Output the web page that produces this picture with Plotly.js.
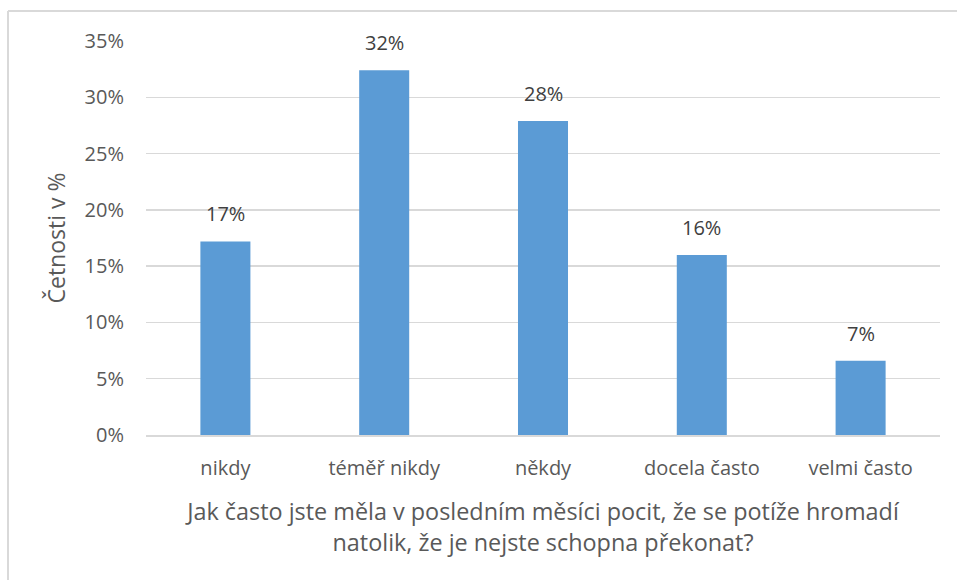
<!DOCTYPE html>
<html>
<head>
<meta charset="utf-8">
<script src="https://cdn.plot.ly/plotly-3.0.1.min.js"></script>
<style>html,body{margin:0;padding:0;background:#fff;}#chart{width:957px;height:580px;}</style>
</head>
<body>
<div id="chart"></div>
<script>
const categories = ["nikdy", "téměř nikdy", "někdy", "docela často", "velmi často"];
const values = [0.172, 0.324, 0.279, 0.160, 0.066];
const labels = ["17%", "32%", "28%", "16%", "7%"];
const yTickVals = [0, 0.05, 0.10, 0.15, 0.20, 0.25, 0.30, 0.35];
const yTickText = ["0%", "5%", "10%", "15%", "20%", "25%", "30%", "35%"];
const xTitle = "Jak často jste měla v posledním měsíci pocit, že se potíže hromadí<br>natolik, že je nejste schopna překonat?";
const yTitle = "Četnosti v %";

const FONT = "Open Sans, Lato, sans-serif";
const TXT = "#595959";
const LBL = "#404040";
const GRID = "#D9D9D9";

const W = 957, H = 580, L = 146, R = 17, T = 41, B = 145;
const pw = W - L - R, ph = H - T - B;
const px = x => (x - L) / pw;
const py = y => (H - B - y) / ph;

const trace = {
  type: "bar",
  x: categories,
  y: values,
  marker: {color: "#5B9BD5"},
  hoverinfo: "none"
};

const dataLabels = categories.map((c, i) => ({
  x: c, y: values[i], xref: "x", yref: "y",
  text: labels[i], showarrow: false,
  yanchor: "bottom", yshift: 12,
  font: {family: FONT, size: 20, color: LBL}
}));

const layout = {
  width: W, height: H,
  margin: {l: L, r: R, t: T, b: B, pad: 0},
  paper_bgcolor: "#fff",
  plot_bgcolor: "#fff",
  bargap: 0.685,
  showlegend: false,
  font: {family: FONT, color: TXT},
  xaxis: {
    type: "category",
    showgrid: false,
    showline: true,
    linecolor: GRID,
    linewidth: 1.5,
    ticks: "",
    ticklabelstandoff: 14,
    tickfont: {family: FONT, size: 20, color: TXT},
    title: {text: xTitle, font: {family: FONT, size: 23.4, color: TXT}, standoff: 24}
  },
  yaxis: {
    range: [0, 0.35],
    tickvals: yTickVals,
    ticktext: yTickText,
    showgrid: true,
    gridcolor: GRID,
    gridwidth: 1.5,
    zeroline: false,
    showline: false,
    ticks: "",
    ticklabelstandoff: 21,
    tickfont: {family: FONT, size: 20, color: TXT},
    title: {text: yTitle, font: {family: FONT, size: 23, color: TXT}, standoff: 12}
  },
  annotations: dataLabels,
  shapes: [
    {type: "line", xref: "paper", yref: "paper", x0: px(8), x1: px(8), y0: py(11), y1: py(H + 5), line: {color: GRID, width: 2}},
    {type: "line", xref: "paper", yref: "paper", x0: px(8), x1: px(W + 5), y0: py(11), y1: py(11), line: {color: GRID, width: 2}}
  ]
};

Plotly.newPlot("chart", [trace], layout, {displayModeBar: false, staticPlot: true});
</script>
</body>
</html>
